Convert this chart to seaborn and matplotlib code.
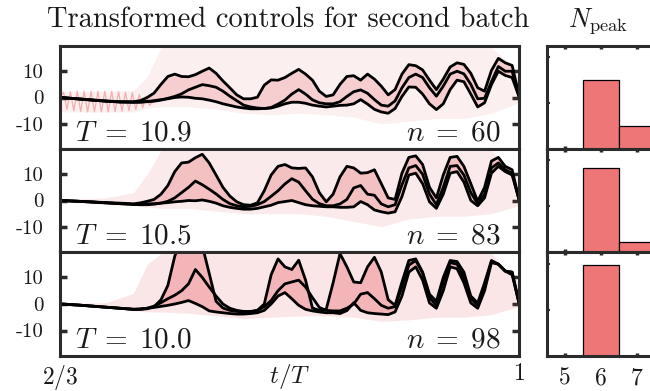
import numpy as np
import pandas as pd
import matplotlib
matplotlib.use("Agg")
import matplotlib.pyplot as plt
import seaborn as sns

# ---------------- data ----------------
TITLE = "Transformed controls for second batch"
PERIODS = [10.9, 10.5, 10.0]
COUNTS = [60, 83, 98]

T_GRID = [0.6667, 0.68, 0.69, 0.70, 0.71, 0.72, 0.725, 0.73, 0.735, 0.74, 0.745,
          0.75, 0.755, 0.76, 0.765, 0.77, 0.775, 0.78, 0.785, 0.79, 0.795, 0.80,
          0.805, 0.81, 0.815, 0.82, 0.825, 0.83, 0.835, 0.84, 0.845, 0.85, 0.855,
          0.86, 0.865, 0.87, 0.875, 0.88, 0.885, 0.89, 0.895, 0.90, 0.905, 0.91,
          0.915, 0.92, 0.925, 0.93, 0.935, 0.94, 0.945, 0.95, 0.955, 0.96, 0.965,
          0.97, 0.975, 0.98, 0.985, 0.99, 0.995, 1.0]

# panel 1 (T = 10.9): upper / middle / lower black curves
UPPER_1 = [0, -0.5, -0.9, -1.3, -1.6, -1.6, -1.2, 0, 1.7, 5, 8, 8.9, 8, 7.9, 8.7, 10,
           11.2, 9.2, 6.3, 3.7, 1, -0.5, -0.5, 0.1, 4.7, 6.7, 6.6, 7.6, 9.2, 10.7, 8.9,
           6.6, 2.4, 0.4, 1, 5, 8, 8.3, 6.6, 8.9, 7, 4.3, 1, 3, 8.9, 12.5, 12.1, 10.5,
           6.6, 3, 7, 11.6, 13.2, 12.6, 9.2, 3.7, 2.4, 10.3, 14.9, 13.2, 12.2, 1]
MID_1 = [0, -0.5, -1, -1.4, -1.7, -1.8, -1.8, -1.6, -1.4, -1, -0.3, 0.4, 1.4, 2.9, 3.9,
         4.9, 4.5, 3.9, 2.4, 0.5, -1.2, -2.9, -3.6, -4, -4.2, -3.8, -2.5, -1, 1.3, 3,
         1.3, -0.9, -2, -2.4, -2.4, -1.6, 0.4, 2.2, 2.9, 1.6, -0.8, -2.9, -3.3, -1.3,
         3.7, 7.6, 8.9, 7.6, 3.7, 0.5, 4.3, 8.9, 10, 9, 5, -0.5, -0.3, 6, 11.8, 10, 10, 0.5]
LOWER_1 = [0, -0.6, -1, -1.4, -1.7, -1.8, -1.7, -1.5, -1.2, -0.8, -0.5, 0, 0.2, 0.1,
           -0.3, -0.5, -1, -1.6, -2.4, -3, -3.6, -4, -4.3, -4.3, -4.2, -4, -3.3, -2.4,
           -1.8, -1.8, -2.2, -2.9, -3.3, -3.6, -3.3, -3, -2.9, -2.4, -0.8, -2.5, -4.5,
           -5.5, -6, -4.2, 0.4, 4, 3.9, 1.3, -2.4, -4.6, -2.4, 3, 6.6, 6, 1.3, -3.6, -2,
           4.9, 10, 8.4, 7.6, 0.3]

# panel 2 (T = 10.5)
UPPER_2 = [0, -0.3, -0.5, -0.8, -1, -1.3, -0.9, -0.3, 0.4, 2.4, 5.7, 11, 14.3, 14.6,
           16.3, 17.6, 14.3, 9.7, 5, 1.7, -0.5, -1.6, -1.8, -0.9, 3.7, 9.7, 13, 13.7,
           12.4, 12.2, 12.4, 9, 3, -0.5, 2.4, 9, 13, 12.4, 10.4, 10.6, 11.7, 6.4, 1, 0.4,
           10.4, 16.4, 17, 13.7, 5, 1, 9.7, 16.4, 16.8, 13, 6.4, -0.3, 5, 15, 16.4, 13,
           11.7, 0.4]
MID_2 = [0, -0.3, -0.6, -0.9, -1.2, -1.5, -1.6, -1.6, -1.4, -1, -0.3, 1, 3, 5, 7.4, 6,
         4.3, 2.5, 0.4, -1.2, -2, -2.4, -2.2, -1.6, -0.4, 1.6, 3.7, 6.3, 8.3, 7, 3.7, 0.5,
         -1.2, -2, -2, -1.3, 0.4, 4.8, 5.7, 2.4, 2, -1.3, -2.4, -1.6, 6, 12.4, 13.3, 10,
         2.4, -1.6, 5, 13, 13.3, 9.7, 3, -1.2, 2.4, 12.4, 14.3, 11.7, 10.4, 0.4]
LOWER_2 = [0, -0.3, -0.6, -0.9, -1.2, -1.4, -1.4, -1.3, -1.2, -1, -0.8, -0.5, -0.3, 0,
           -0.1, 0.2, -0.3, -1, -2, -2.6, -3, -3.3, -3.3, -3, -2.4, -1.8, -0.8, -0.4, 0,
           -0.8, -1.6, -2, -2.2, -2.4, -2.4, -2.6, -2.6, -2.4, -0.4, -1.6, -3.6, -4.3,
           -4.8, -4.3, 1.5, 9.7, 10.4, 6.4, -0.5, -3, 2.4, 10.4, 11, 7, 0, -2, 1, 10.4,
           13, 11, 9.7, 0.4]

# panel 3 (T = 10.0)
UPPER_3 = [0, -0.4, -0.8, -1.2, -1.6, -2, -2, -1.8, -1, 1.6, 7, 18, 25, 25, 25, 22,
           11.6, 1, -1.5, -2.4, -2.8, -3, -3, -2.4, 0, 11, 17, 14, 13, 16.5, 9, -1.5,
           -2.4, -2, 8, 19, 14, 8.3, 8, 14, 17.6, 12, 1.6, -0.5, 8.3, 16.4, 17, 12, 3.7,
           1, 10, 16.4, 16, 12, 3, 0.4, 8, 16.4, 15, 12.4, 12, 0.4]
MID_3 = [0, -0.4, -0.8, -1.2, -1.6, -2, -2, -1.6, -0.8, 0.5, 2, 3.3, 5, 7.6, 13, 10,
         6.4, 3, 0, -1.6, -2.4, -2.8, -2.8, -2.4, -1, 1.3, 5, 7.6, 8.3, 9, 6.4, 2.4,
         -1.3, -2.4, -2.6, -2.6, -1.6, 0, 3.7, 4.3, 2, -0.5, -1.6, -1, 6.4, 14.6, 16.4,
         11.7, 2.4, -0.5, 8.3, 15.6, 15, 10, 2, -0.4, 7, 16, 15, 12.4, 12, 0.4]
LOWER_3 = [0, -0.4, -0.8, -1.2, -1.6, -2, -1.8, -1.6, -1.3, -0.9, -0.5, 0, 0.6, 1.3,
           0.2, -1, -2.6, -3, -3.3, -3.6, -3.8, -3.8, -3.6, -3.3, -2.4, 0, 3, 4.3, 2,
           -0.5, -2, -2.6, -3, -3.3, -3.3, -3.6, -2.5, 0.5, -2.4, -3.3, -3.6, -3.8, -4,
           -3, 3, 12, 14, 9, 0.4, -1.6, 5, 14, 13.3, 8, 0.4, -1.6, 5, 15.6, 15, 12.4,
           11, 0.4]

# spread of the individual (red) runs: outer envelope per panel
ENV_T = [0.6667, 0.70, 0.72, 0.73, 0.74, 0.76, 0.78, 0.80, 0.82, 0.84, 0.86, 0.88,
         0.90, 0.92, 0.94, 0.96, 0.98, 1.0]
ENV_HI_1 = [2.4, 2.4, 2.6, 8, 19, 19, 19, 19, 19, 19, 19, 19, 19, 19, 19, 19, 19, 10]
ENV_LO_1 = [-5.5, -5.5, -5.5, -4, -3.5, -3.5, -4.5, -6, -6.5, -6, -6.5, -7.5, -10, -9,
            -8, -8, -6, -2]
ENV_HI_2 = [0.5, 1, 3, 10, 19, 19, 19, 19, 19, 19, 19, 19, 19, 19, 19, 19, 19, 8]
ENV_LO_2 = [-0.5, -1.5, -2, -2.5, -3, -3, -4, -5, -5, -5, -6, -8, -10, -7, -6, -6, -5, -2]
ENV_HI_3 = [0.3, 0.5, 4, 15, 19, 19, 19, 19, 19, 19, 19, 19, 19, 19, 19, 19, 19, 8]
ENV_LO_3 = [-0.5, -1.5, -2.5, -3, -3, -3.5, -4.5, -5.5, -5, -4.5, -4.5, -5, -6.5, -6,
            -5, -5, -4, -1]

# early fast oscillation of some runs in the first panel
ZIG_T = [0.6667, 0.6692, 0.6717, 0.6742, 0.6767, 0.6792, 0.6817, 0.6842, 0.6867,
         0.6892, 0.6917, 0.6942, 0.6967, 0.6992, 0.7017, 0.7042, 0.7067, 0.7092,
         0.7117, 0.7142, 0.7167, 0.7192, 0.7217, 0.7242, 0.7267, 0.7292, 0.7317, 0.7342]
ZIG_V = [0, 2.0, -4.5, 2.2, -5, 2.4, -5.3, 2.4, -5.5, 2.4, -5.5, 2.4, -5.5, 2.4, -5.5,
         2.3, -5.4, 2.2, -5.2, 2, -5, 1.8, -4.6, 1.2, -4, 0.5, -3, -1.5]

# histogram of number of peaks (fraction of runs)
NPEAK = [5, 6, 7, 8]
NPEAK_LABELS = ["5", "6", "7", ""]
FRAC_1 = [0.0, 0.60, 0.20, 0.20]
FRAC_2 = [0.0, 0.735, 0.085, 0.18]
FRAC_3 = [0.0, 0.79, 0.0, 0.21]

YTICKS = [-10, 0, 10]
YTICKLABELS = ["-10", "0", "10"]

panels = [
    (UPPER_1, MID_1, LOWER_1, ENV_HI_1, ENV_LO_1, FRAC_1),
    (UPPER_2, MID_2, LOWER_2, ENV_HI_2, ENV_LO_2, FRAC_2),
    (UPPER_3, MID_3, LOWER_3, ENV_HI_3, ENV_LO_3, FRAC_3),
]
for p in panels:
    for arr in p[:3]:
        assert len(arr) == len(T_GRID), len(arr)

# ---------------- style ----------------
sns.set_theme(style="white")
plt.rcParams["font.family"] = ["cmr10", "DejaVu Serif"]
plt.rcParams["mathtext.fontset"] = "cm"
plt.rcParams["axes.unicode_minus"] = False

SPINE = "#2b2b2b"
RED = "#e0393e"
BAR = "#ee7677"
TXT = "#1a1a1a"

fig = plt.figure(figsize=(6.5, 3.91), dpi=100)
W, H = 650.0, 391.0
rows = [(46, 149), (149, 252), (252, 356)]

for i, ((top, bot), (up, mid, lo, ehi, elo, frac)) in enumerate(zip(rows, panels)):
    ax = fig.add_axes([60 / W, 1 - bot / H, 459 / W, (bot - top) / H])
    hx = fig.add_axes([547 / W, 1 - bot / H, 144 / W, (bot - top) / H])

    # spread of individual runs
    ax.fill_between(ENV_T, elo, ehi, color=RED, alpha=0.08 + 0.02 * i, lw=0)
    ax.fill_between(T_GRID, lo, up, color=RED, alpha=0.18 + 0.05 * i, lw=0)
    if i == 0:
        sns.lineplot(x=ZIG_T, y=ZIG_V, ax=ax, color=RED, alpha=0.35, lw=0.9,
                     sort=False, estimator=None)

    for arr in (up, mid, lo):
        sns.lineplot(x=T_GRID, y=arr, ax=ax, color="black", lw=2.0, sort=False,
                     estimator=None)

    ax.set_xlim(2 / 3, 1)
    ax.set_ylim(-19.6, 19.6)
    ax.set_yticks(YTICKS)
    ax.set_yticklabels(YTICKLABELS)
    ax.tick_params(axis="y", which="both", direction="in", length=5, width=2.5,
                   color=SPINE, left=True, right=True, labelleft=True,
                   labelright=False, pad=12, labelsize=15, labelcolor=TXT)
    ax.set_xticks([2 / 3, 1])
    if i == 2:
        ax.set_xticklabels([r"$2/3$", r"$1$"])
        ax.tick_params(axis="x", direction="in", length=0, pad=5, labelsize=17,
                       labelcolor=TXT)
        ax.text(0.501, -0.2, r"$t/T$", transform=ax.transAxes, ha="center",
                va="center", fontsize=18, color=TXT)
    else:
        ax.set_xticklabels([])
        ax.tick_params(axis="x", length=0)
    ax.set_xlabel("")
    ax.set_ylabel("")
    for s in ax.spines.values():
        s.set_color(SPINE)
        s.set_linewidth(2.2)
    ax.text(0.033, 0.085, rf"$T\;=\;{PERIODS[i]:.1f}$", transform=ax.transAxes,
            fontsize=21, ha="left", va="baseline", color=TXT)
    ax.text(0.959, 0.085, rf"$n\;=\;{COUNTS[i]}$", transform=ax.transAxes,
            fontsize=21, ha="right", va="baseline", color=TXT)

    # histogram
    df = pd.DataFrame({"npeak": NPEAK, "frac": frac})
    hx.bar(df["npeak"], df["frac"], width=1.0, color=BAR, edgecolor="black",
           linewidth=0.9)
    hx.set_xlim(4.5, 8.5)
    hx.set_ylim(0, 0.9)
    hx.set_yticks([0.4, 0.8])
    hx.set_yticklabels([])
    hx.tick_params(axis="y", direction="in", length=2, width=1.5, color=SPINE,
                   left=True, right=False)
    hx.set_xticks(NPEAK)
    hx.tick_params(axis="x", direction="in", length=2.5, width=2.5, color=SPINE,
                   top=True, bottom=True, pad=8, labelsize=17, labelcolor=TXT)
    if i == 2:
        hx.set_xticklabels(NPEAK_LABELS)
    else:
        hx.set_xticklabels([])
    for s in hx.spines.values():
        s.set_color(SPINE)
        s.set_linewidth(2.2)

fig.text(288 / W, 1 - 27 / H, TITLE, ha="center", va="baseline", fontsize=20.5,
         color=TXT)
fig.text(598 / W, 1 - 27 / H, r"$N_{\mathrm{peak}}$", ha="center", va="baseline",
         fontsize=19, color=TXT)

fig.savefig("out.png", dpi=100)
